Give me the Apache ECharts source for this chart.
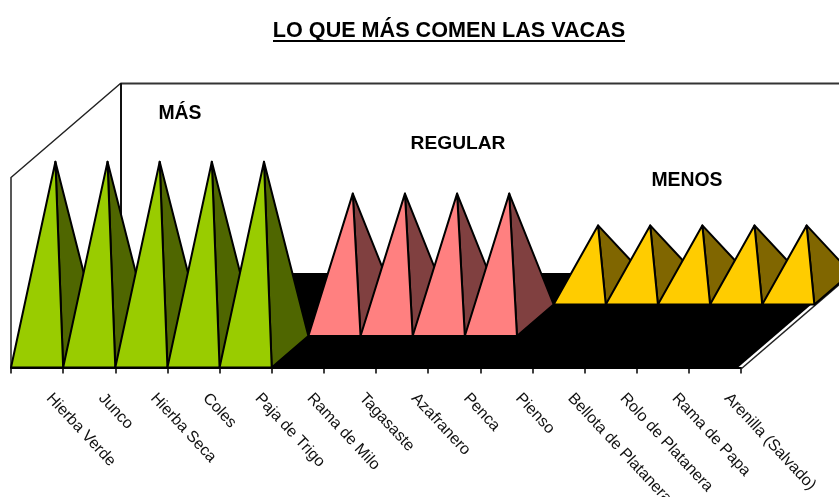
<!DOCTYPE html>
<html>
<head>
<meta charset="utf-8">
<style>html,body{margin:0;padding:0;background:#fff}#c{width:839px;height:497px}</style>
<script src="https://cdn.jsdelivr.net/npm/echarts@6/dist/echarts.min.js"></script>
</head>
<body>
<div id="c"></div>
<script>
const categories = ['Hierba Verde','Junco','Hierba Seca','Coles','Paja de Trigo','Rama de Milo','Tagasaste','Azafranero','Penca','Pienso','Bellota de Platanera','Rolo de Platanera','Rama de Papa','Arenilla (Salvado)'];
const masValues     = [3,3,3,3,3,null,null,null,null,null,null,null,null,null];
const regularValues = [null,null,null,null,null,2,2,2,2,null,null,null,null,null];
const menosValues   = [null,null,null,null,null,null,null,null,null,1,1,1,1,1];
const titleText = 'LO QUE MÁS COMEN LAS VACAS';
const groupLabels = ['MÁS','REGULAR','MENOS'];

const DX = 36.67, DY = -31.5, ROWS = 3;
const FONT = '"Liberation Sans", Arial, sans-serif';
const chart = echarts.init(document.getElementById('c'), null, {renderer:'canvas'});

function toData(arr){ return arr.map((v,i)=> v==null ? null : [i,v]).filter(Boolean); }

function pyramid(row, front, side){
  return function(params, api){
    const i = api.value(0), v = api.value(1);
    const w = api.size([1,0])[0];
    const base = api.coord([i,0]), top = api.coord([i,v]);
    const x0 = base[0]-w/2 + row*DX, x1 = x0+w, y0 = base[1] + row*DY;
    const ax = (x0+x1)/2 + DX/2, ay = y0 + DY/2 - (base[1]-top[1]);
    const line = {stroke:'#000', lineWidth:2, lineJoin:'round'};
    return {type:'group', children:[
      {type:'polygon', shape:{points:[[x1,y0],[x1+DX,y0+DY],[ax,ay]]}, style:Object.assign({fill:side},line)},
      {type:'polygon', shape:{points:[[x0,y0],[x1,y0],[ax,ay]]}, style:Object.assign({fill:front},line)}
    ]};
  };
}

function frame(params, api){
  const c = params.coordSys;
  const l = c.x, r = c.x+c.width, t = c.y, b = c.y+c.height;
  const ddx = DX*ROWS, ddy = DY*ROWS;
  const ln = {stroke:'#222', lineWidth:1.5, fill:null};
  return {type:'group', children:[
    {type:'polygon', shape:{points:[[l,b],[r-3,b],[r-3+ddx,b+ddy],[l+ddx,b+ddy]]}, style:{fill:'#000', stroke:null}},
    {type:'polyline', shape:{points:[[l,b+1],[l,t],[l+ddx,t+ddy]]}, style:ln},
    {type:'line', shape:{x1:l+ddx,y1:t+ddy+0.5,x2:r+ddx,y2:t+ddy+0.5}, style:{stroke:'#333', lineWidth:2}},
    {type:'line', shape:{x1:l+ddx,y1:t+ddy,x2:l+ddx,y2:b+ddy}, style:{stroke:'#111', lineWidth:2}},
    {type:'line', shape:{x1:r,y1:b+1.5,x2:r+ddx,y2:b+1.5+ddy}, style:{stroke:'#222', lineWidth:1.5}}
  ]};
}

chart.setOption({
  animation:false,
  backgroundColor:'#fff',
  title:{text:titleText, left:444, top:15, textAlign:'center',
    textStyle:{fontFamily:FONT, fontSize:21.6, fontWeight:'bold', color:'#000'}},
  grid:{left:11, width:730, top:177.5, height:190, containLabel:false, outerBoundsMode:'none'},
  xAxis:{type:'category', data:categories, offset:2,
    axisLine:{show:true, lineStyle:{color:'#000', width:2}},
    axisTick:{show:true, alignWithLabel:false, length:6, lineStyle:{color:'#000', width:1.5}},
    axisLabel:{interval:0, rotate:-47, margin:25, verticalAlign:'bottom', padding:[0,0,0,9], fontFamily:FONT, fontSize:16, color:'#111'}},
  yAxis:{type:'value', min:0, max:3, show:false},
  graphic:[
    {type:'line', z:10, shape:{x1:273,y1:41,x2:625,y2:41}, style:{stroke:'#000', lineWidth:2}},
    {type:'text', z:10, x:180, y:114, style:{text:groupLabels[0], font:'bold 19.4px '+FONT, fill:'#000', textAlign:'center', textVerticalAlign:'middle'}},
    {type:'text', z:10, x:458, y:144, style:{text:groupLabels[1], font:'bold 19.2px '+FONT, fill:'#000', textAlign:'center', textVerticalAlign:'middle'}},
    {type:'text', z:10, x:687, y:181, style:{text:groupLabels[2], font:'bold 19.4px '+FONT, fill:'#000', textAlign:'center', textVerticalAlign:'middle'}}
  ],
  series:[
    {type:'custom', name:'frame', z:1, silent:true, renderItem:frame, data:[[0,0]]},
    {type:'custom', name:groupLabels[2], z:2, renderItem:pyramid(2,'#FFCC00','#806600'), data:toData(menosValues)},
    {type:'custom', name:groupLabels[1], z:3, renderItem:pyramid(1,'#FF8080','#804040'), data:toData(regularValues)},
    {type:'custom', name:groupLabels[0], z:4, renderItem:pyramid(0,'#99CC00','#4F6600'), data:toData(masValues)}
  ]
});
</script>
</body>
</html>
